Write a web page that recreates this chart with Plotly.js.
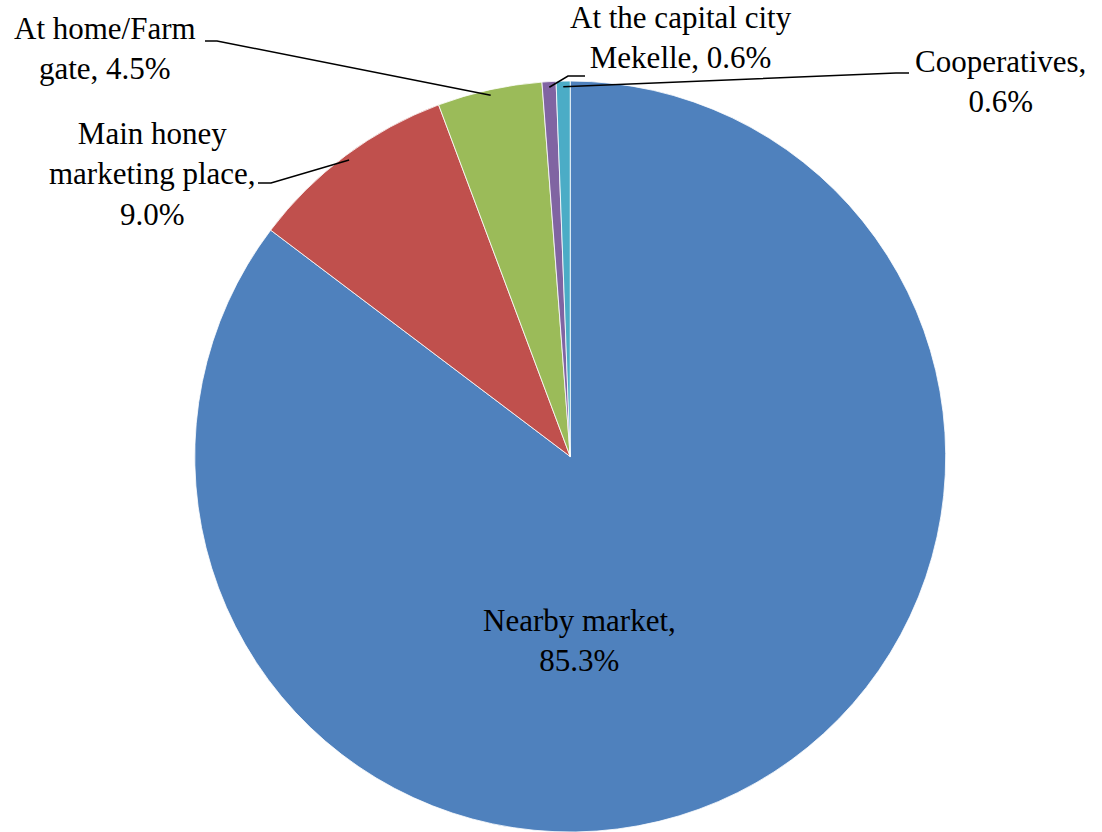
<!DOCTYPE html>
<html>
<head>
<meta charset="utf-8">
<script src="https://cdn.plot.ly/plotly-3.0.1.min.js"></script>
<style>html,body{margin:0;padding:0;background:#fff;}#chart{width:1102px;height:832px;}</style>
</head>
<body>
<div id="chart"></div>
<script>
// ---- data ----
const categories = ["Nearby market", "Main honey marketing place", "At home/Farm gate", "At the capital city Mekelle", "Cooperatives"];
const values = [85.3, 9.0, 4.5, 0.6, 0.6];
const labelLines = [
  ["Nearby market,", "85.3%"],
  ["Main honey", "marketing place,", "9.0%"],
  ["At home/Farm", "gate, 4.5%"],
  ["At the capital city", "Mekelle, 0.6%"],
  ["Cooperatives,", "0.6%"]
];
const colors = ["#4F81BD", "#C0504D", "#9BBB59", "#8064A2", "#4BACC6"];

// ---- layout helpers ----
const W = 1102, H = 832;
const domX = [0.1765, 0.8584], domY = [0, 0.9026];
const wPx = (domX[1] - domX[0]) * W, hPx = (domY[1] - domY[0]) * H;
const R = Math.min(wPx, hPx) / 2;
const cx = (domX[0] + domX[1]) / 2 * W;
const cy = H - (domY[0] + domY[1]) / 2 * H;
const toPX = x => x / W, toPY = y => 1 - y / H;

// label placement (pixels: block centre) and leader elbows
const labelPos = [
  [579, 640],
  [152, 174],
  [105, 49],
  [681, 38],
  [1000, 81]
];
const elbows = [
  null,
  [[258, 183], [271, 183]],
  [[205, 41], [217, 41]],
  [[585, 76], [568, 76]],
  [[909, 73], [896, 73]]
];

const total = values.reduce((a, b) => a + b, 0);
let cum = 0;
const annotations = [];
const shapes = [];
values.forEach((v, i) => {
  const mid = (cum + v / 2) / total * 2 * Math.PI;
  cum += v;
  annotations.push({
    xref: 'paper', yref: 'paper',
    x: toPX(labelPos[i][0]), y: toPY(labelPos[i][1]),
    xanchor: 'center', yanchor: 'middle', align: 'center',
    showarrow: false,
    text: labelLines[i].join('<br>'),
    font: {family: 'Liberation Serif', size: 31, color: '#000'}
  });
  if (elbows[i]) {
    const rr = R * 0.985;
    const ex = cx + rr * Math.sin(mid), ey = cy - rr * Math.cos(mid);
    const pts = [elbows[i][0], elbows[i][1], [ex, ey]];
    const path = 'M ' + pts.map(p => toPX(p[0]) + ',' + toPY(p[1])).join(' L ');
    shapes.push({type: 'path', xref: 'paper', yref: 'paper', path: path,
                 line: {color: '#000', width: 1.5}});
  }
});

const trace = {
  type: 'pie',
  labels: categories,
  values: values,
  sort: false,
  direction: 'clockwise',
  rotation: 0,
  marker: {colors: colors, line: {color: '#ffffff', width: 0.8}},
  textinfo: 'none',
  hoverinfo: 'label+percent',
  showlegend: false,
  domain: {x: domX, y: domY}
};

const layout = {
  width: W, height: H,
  margin: {l: 0, r: 0, t: 0, b: 0},
  paper_bgcolor: '#fff',
  showlegend: false,
  annotations: annotations,
  shapes: shapes
};

Plotly.newPlot('chart', [trace], layout, {displayModeBar: false, staticPlot: true});
</script>
</body>
</html>
